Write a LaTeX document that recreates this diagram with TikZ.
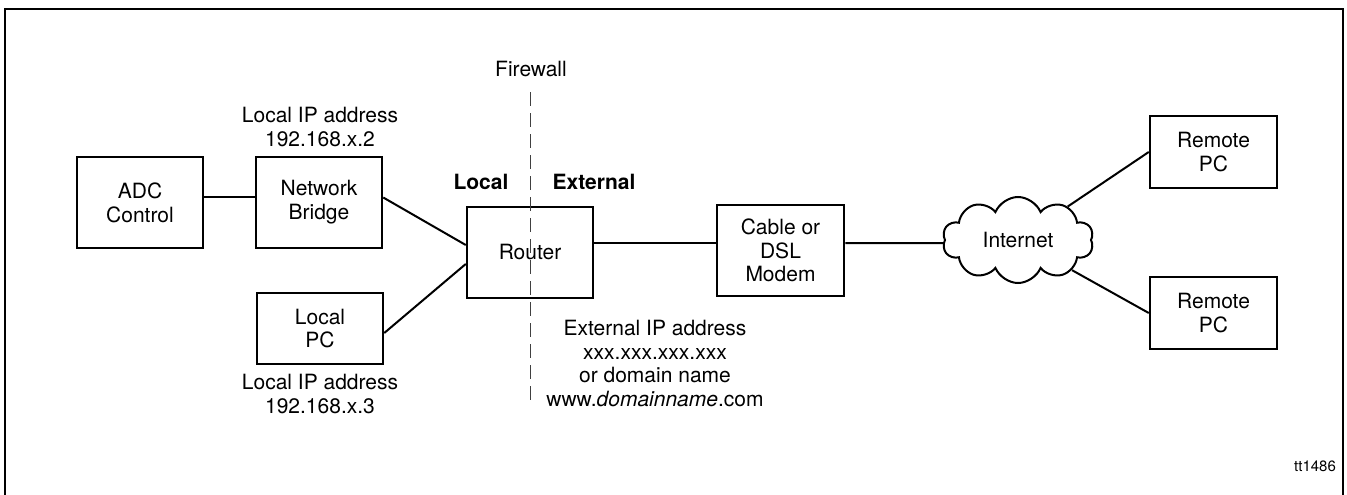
\documentclass[tikz,border=0pt]{standalone}
\usepackage{fontspec}
\setmainfont{TeX Gyre Heros}
\usetikzlibrary{shapes.symbols}
\begin{document}
\begin{tikzpicture}[x=1pt,y=-1pt,
  font=\fontsize{21}{23.8}\selectfont,
  box/.style={draw, line width=2.5pt, inner sep=0pt, align=center},
  lbl/.style={align=center, inner sep=0pt},
  link/.style={line width=2pt},
  fwline/.style={line width=1pt, black!75, dash pattern=on 14pt off 7pt}]
\useasboundingbox (0,0) rectangle (1347,495);
\draw[line width=2.5pt] (5,9) rectangle (1343,498);
% boxes
\node[box, minimum width=126pt, minimum height=91pt] (adc) at (140,202.5) {ADC\\Control};
\node[box, minimum width=126pt, minimum height=91pt] (nb) at (319,202.5) {Network\\Bridge};
\node[box, minimum width=126pt, minimum height=71pt] (pc) at (320,328.5) {Local\\PC};
\node[box, minimum width=126pt, minimum height=91pt] (router) at (530,252.5) {Router};
\node[box, minimum width=127pt, minimum height=91pt] (modem) at (780.5,250.5) {Cable or\\DSL\\Modem};
\node[cloud, draw, line width=2pt, cloud puffs=10, cloud puff arc=135, aspect=1.8,
      minimum width=151pt, minimum height=86pt, inner sep=0pt] (inet) at (1018,240) {Internet};
\node[box, minimum width=127pt, minimum height=72pt] (r1) at (1213.5,152) {Remote\\PC};
\node[box, minimum width=127pt, minimum height=72pt] (r2) at (1213.5,313) {Remote\\PC};
% labels
\node[lbl] (fwlbl) at (531,69) {Firewall};
\node[lbl, font=\fontsize{21}{23.8}\selectfont\bfseries] (loc) at (481,182) {Local};
\node[lbl, font=\fontsize{21}{23.8}\selectfont\bfseries] (ext) at (594,182) {External};
\node[lbl] (ip1) at (320,127) {Local IP address\\192.168.x.2};
\node[lbl] (ip2) at (320,394) {Local IP address\\192.168.x.3};
\node[lbl] (extip) at (655,363.5) {External IP address\\xxx.xxx.xxx.xxx\\or domain name\\www.\textit{domainname}.com};
\node[lbl, font=\fontsize{15}{18}\selectfont] (tt) at (1315,466) {tt1486};
% firewall
\coordinate (fw1) at (530,92);
\coordinate (fw2) at (530,403);
\draw[fwline] (fw1) -- (fw2);
% connectors
\draw[link] ([yshift=6pt]adc.east) -- ([yshift=6pt]nb.west);
\draw[link] ([yshift=5pt]nb.east) -- ([yshift=7.5pt]router.west);
\draw[link] ([yshift=-4.5pt]pc.east) -- ([yshift=-11.5pt]router.west);
\draw[link] ([yshift=9.5pt]router.east) -- ([yshift=7.5pt]modem.west);
\draw[link] ([yshift=7.5pt]modem.east) -- ([yshift=-3pt]inet.west);
\draw[link] (inet) -- (r1.west);
\draw[link] (inet) -- (r2.west);
\end{tikzpicture}
\end{document}
